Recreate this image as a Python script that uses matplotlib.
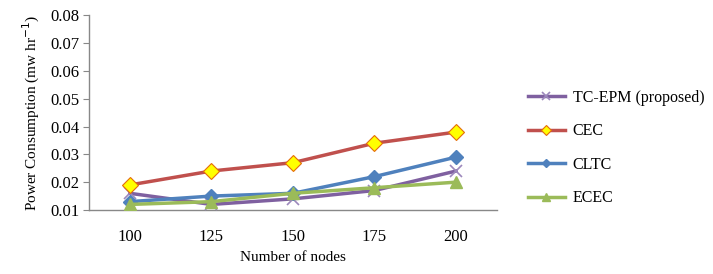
import matplotlib
matplotlib.use("Agg")
import matplotlib.pyplot as plt

categories = ["100", "125", "150", "175", "200"]
tc_epm = [0.016, 0.012, 0.014, 0.017, 0.024]
cec = [0.019, 0.024, 0.027, 0.034, 0.038]
cltc = [0.013, 0.015, 0.016, 0.022, 0.029]
ecec = [0.012, 0.013, 0.016, 0.018, 0.020]
yticks = [0.01, 0.02, 0.03, 0.04, 0.05, 0.06, 0.07, 0.08]

plt.rcParams['font.family'] = ['Liberation Serif', 'DejaVu Serif']

fig = plt.figure(figsize=(7.13, 2.74), dpi=100)
ax = fig.add_axes([0.1248, 0.2336, 0.572, 0.711])
x = list(range(len(categories)))

ax.plot(x, tc_epm, color='#7F60A0', lw=2.5, marker='x', ms=9, mew=1.2,
        mec='#9C88BC', label='TC-EPM (proposed)', zorder=3)
ax.plot(x, cec, color='#C0504D', lw=2.5, marker='D', ms=8, mfc='#FFFF00',
        mec='#E46C0A', mew=0.8, label='CEC', zorder=3)
ax.plot(x, cltc, color='#4F81BD', lw=2.5, marker='D', ms=7, mfc='#4F81BD',
        mec='#4F81BD', label='CLTC', zorder=3)
ax.plot(x, ecec, color='#9BBB59', lw=2.5, marker='^', ms=9, mfc='#9BBB59',
        mec='#9BBB59', label='ECEC', zorder=4)

ax.set_xlim(-0.5, 4.5)
ax.set_ylim(0.01, 0.08)
ax.set_yticks(yticks)
ax.set_yticklabels([f"{v:.2f}" for v in yticks], fontsize=12)
ax.set_xticks(x)
ax.set_xticklabels(categories, fontsize=12)
ax.tick_params(axis='x', length=0, pad=14)
ax.tick_params(axis='y', length=4, color='#888888', direction='out', pad=3)
for s in ['top', 'right']:
    ax.spines[s].set_visible(False)
for s in ['left', 'bottom']:
    ax.spines[s].set_color('#888888')
    ax.spines[s].set_linewidth(1.0)

ax.set_xlabel("Number of nodes", fontsize=11, labelpad=4)
ax.set_ylabel("Power Consumption (mw hr$^{-1}$)", fontsize=11, labelpad=6)

handles, labels = ax.get_legend_handles_labels()
leg = fig.legend(handles, labels, loc='center left',
                 bbox_to_anchor=(528 / 713, 1 - 148 / 274), frameon=False,
                 fontsize=11.5, handlelength=2.3, handletextpad=0.5,
                 labelspacing=1.1, borderpad=0, borderaxespad=0,
                 markerscale=0.6)

fig.savefig("out.png", dpi=100)
